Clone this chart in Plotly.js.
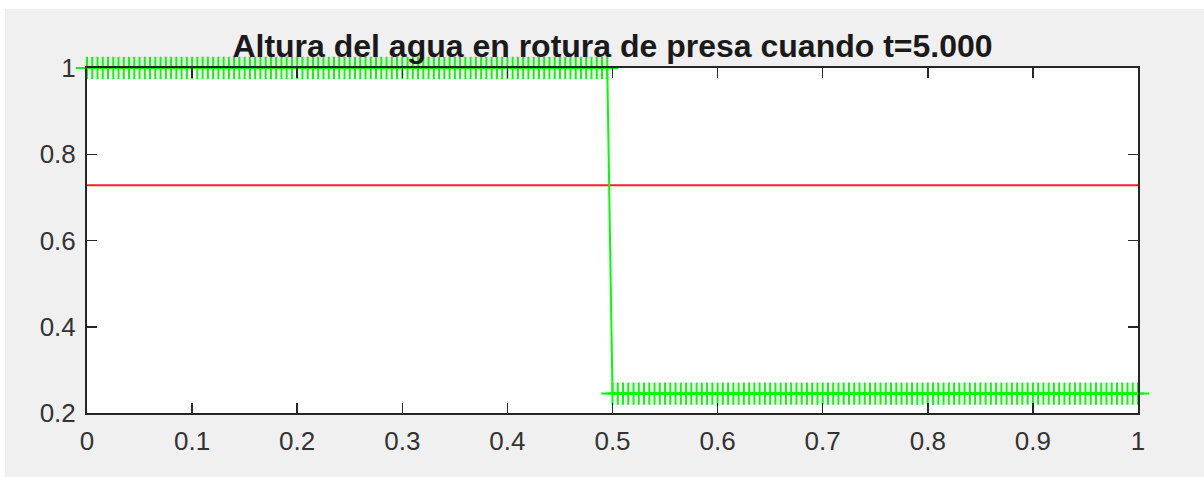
<!DOCTYPE html>
<html>
<head>
<meta charset="utf-8">
<script src="https://cdn.plot.ly/plotly-3.0.1.min.js"></script>
<style>
html,body{margin:0;padding:0;background:#ffffff;width:1204px;height:477px;overflow:hidden;}
#plot{position:absolute;left:5px;top:9px;width:1199px;height:468px;}
</style>
</head>
<body>
<div id="plot"></div>
<script>
var xPos = [
0,0.005,0.01,0.015,0.02,0.025,0.03,0.035,0.04,0.045,
0.05,0.055,0.06,0.065,0.07,0.075,0.08,0.085,0.09,0.095,
0.1,0.105,0.11,0.115,0.12,0.125,0.13,0.135,0.14,0.145,
0.15,0.155,0.16,0.165,0.17,0.175,0.18,0.185,0.19,0.195,
0.2,0.205,0.21,0.215,0.22,0.225,0.23,0.235,0.24,0.245,
0.25,0.255,0.26,0.265,0.27,0.275,0.28,0.285,0.29,0.295,
0.3,0.305,0.31,0.315,0.32,0.325,0.33,0.335,0.34,0.345,
0.35,0.355,0.36,0.365,0.37,0.375,0.38,0.385,0.39,0.395,
0.4,0.405,0.41,0.415,0.42,0.425,0.43,0.435,0.44,0.445,
0.45,0.455,0.46,0.465,0.47,0.475,0.48,0.485,0.49,0.495,
0.5,0.505,0.51,0.515,0.52,0.525,0.53,0.535,0.54,0.545,
0.55,0.555,0.56,0.565,0.57,0.575,0.58,0.585,0.59,0.595,
0.6,0.605,0.61,0.615,0.62,0.625,0.63,0.635,0.64,0.645,
0.65,0.655,0.66,0.665,0.67,0.675,0.68,0.685,0.69,0.695,
0.7,0.705,0.71,0.715,0.72,0.725,0.73,0.735,0.74,0.745,
0.75,0.755,0.76,0.765,0.77,0.775,0.78,0.785,0.79,0.795,
0.8,0.805,0.81,0.815,0.82,0.825,0.83,0.835,0.84,0.845,
0.85,0.855,0.86,0.865,0.87,0.875,0.88,0.885,0.89,0.895,
0.9,0.905,0.91,0.915,0.92,0.925,0.93,0.935,0.94,0.945,
0.95,0.955,0.96,0.965,0.97,0.975,0.98,0.985,0.99,0.995,
1
];
var alturaAgua = [
1,1,1,1,1,1,1,1,1,1,
1,1,1,1,1,1,1,1,1,1,
1,1,1,1,1,1,1,1,1,1,
1,1,1,1,1,1,1,1,1,1,
1,1,1,1,1,1,1,1,1,1,
1,1,1,1,1,1,1,1,1,1,
1,1,1,1,1,1,1,1,1,1,
1,1,1,1,1,1,1,1,1,1,
1,1,1,1,1,1,1,1,1,1,
1,1,1,1,1,1,1,1,1,1,
0.245,0.245,0.245,0.245,0.245,0.245,0.245,0.245,0.245,0.245,
0.245,0.245,0.245,0.245,0.245,0.245,0.245,0.245,0.245,0.245,
0.245,0.245,0.245,0.245,0.245,0.245,0.245,0.245,0.245,0.245,
0.245,0.245,0.245,0.245,0.245,0.245,0.245,0.245,0.245,0.245,
0.245,0.245,0.245,0.245,0.245,0.245,0.245,0.245,0.245,0.245,
0.245,0.245,0.245,0.245,0.245,0.245,0.245,0.245,0.245,0.245,
0.245,0.245,0.245,0.245,0.245,0.245,0.245,0.245,0.245,0.245,
0.245,0.245,0.245,0.245,0.245,0.245,0.245,0.245,0.245,0.245,
0.245,0.245,0.245,0.245,0.245,0.245,0.245,0.245,0.245,0.245,
0.245,0.245,0.245,0.245,0.245,0.245,0.245,0.245,0.245,0.245,
0.245
];
var redX = [0, 1];
var redY = [0.728, 0.728];
var xTicks = [0,0.1,0.2,0.3,0.4,0.5,0.6,0.7,0.8,0.9,1];
var xTickText = ['0','0.1','0.2','0.3','0.4','0.5','0.6','0.7','0.8','0.9','1'];
var yTicks = [0.2,0.4,0.6,0.8,1];
var yTickText = ['0.2','0.4','0.6','0.8','1'];
var titleText = 'Altura del agua en rotura de presa cuando t=5.000';

var fontFam = '"Liberation Sans", Arial, Helvetica, sans-serif';

var traces = [
  {
    x: redX, y: redY, type: 'scatter', mode: 'lines',
    line: {color: '#ff2020', width: 2},
    hoverinfo: 'skip', showlegend: false
  },
  {
    x: xPos, y: alturaAgua, type: 'scatter', mode: 'lines+markers',
    line: {color: '#00ff00', width: 2},
    marker: {symbol: 'cross-thin', size: 16, color: '#00ff00', line: {color: '#00ff00', width: 2}},
    cliponaxis: false,
    hoverinfo: 'skip', showlegend: false
  }
];

var axCommon = {
  showline: true, mirror: 'ticks', linecolor: '#262626', linewidth: 2,
  ticks: 'inside', ticklen: 10, tickwidth: 1.5, tickcolor: '#262626',
  showgrid: false, zeroline: false,
  tickfont: {family: fontFam, size: 26, color: '#333333'},
  fixedrange: true
};

var layout = {
  width: 1199, height: 468,
  paper_bgcolor: '#f0f0f0', plot_bgcolor: '#ffffff',
  margin: {l: 82, r: 66, t: 59, b: 64, pad: 0},
  showlegend: false,
  title: {
    text: '<b>' + titleText + '</b>',
    font: {family: fontFam, size: 32, color: '#1a1a1a'},
    x: 0.5, xref: 'paper', xanchor: 'center',
    y: 0.922, yref: 'container', yanchor: 'middle'
  },
  xaxis: Object.assign({}, axCommon, {
    range: [0, 1], tickmode: 'array', tickvals: xTicks, ticktext: xTickText,
    ticklabelstandoff: 4
  }),
  yaxis: Object.assign({}, axCommon, {
    range: [0.2, 1], tickmode: 'array', tickvals: yTicks, ticktext: yTickText,
    ticklabelstandoff: 4
  })
};

Plotly.newPlot('plot', traces, layout, {displayModeBar: false, staticPlot: true});
</script>
</body>
</html>
